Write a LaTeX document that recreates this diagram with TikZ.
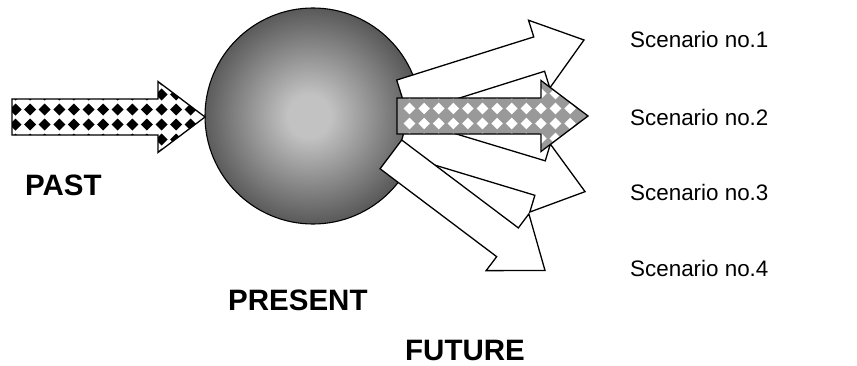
\documentclass[tikz,border=0pt]{standalone}
\usepackage{fontspec}
\setmainfont{Liberation Sans}

\definecolor{ballin}{gray}{0.76}
\definecolor{ballout}{gray}{0.35}
\definecolor{tilegray}{gray}{0.6}
\pgfdeclareradialshading{ballshade}{\pgfpoint{-1bp}{0bp}}{%
  color(0bp)=(ballin); color(5bp)=(ballin); color(25bp)=(ballout); color(50bp)=(ballout)}

% block arrow of length #1, tail centre at the origin, pointing along +x
\newcommand\arrowoutline[1]{(0,-18) -- ({#1-47},-18) -- ({#1-47},-35.5) -- (#1,0)
  -- ({#1-47},35.5) -- ({#1-47},18) -- (0,18) -- cycle}

\begin{document}
\begin{tikzpicture}[x=1pt,y=1pt,
  outline/.style={draw=black, line width=1.3pt, line join=miter},
  pics/plainarrow/.style={code={
    \fill[white] \arrowoutline{#1};
    \path[outline] \arrowoutline{#1};
  }},
  % #1 length, #2 ground colour, #3 diamond colour, #4 offset of the first diamond column,
  % #5 half diagonal of a diamond
  pics/tiledarrow/.style n args={5}{code={
    \fill[#2] \arrowoutline{#1};
    \begin{scope}
      \clip \arrowoutline{#1};
      \foreach \i in {0,...,13} \foreach \j in {-3,...,2}
        \fill[#3] ({#4+14.6*\i-#5},{7.5+15*\j}) -- ++(#5,#5) -- ++(#5,-#5) -- ++(-#5,-#5) -- cycle;
    \end{scope}
    \path[outline] \arrowoutline{#1};
  }},
  scen/.style={font=\fontsize{22.4}{27}\selectfont, inner sep=0pt, anchor=base west},
  era/.style={font=\fontsize{29.5}{35}\bfseries\selectfont, inner sep=0pt, anchor=base west}]

\useasboundingbox (0,0) rectangle (857,365);
\fill[white] (0,0) rectangle (857,365);

% the present
\node[circle, draw=black, line width=1.1pt, minimum size=216pt, inner sep=0pt,
      shade, shading=ballshade] (ball) at (313,249) {};

% the past, coming in
\pic (past) at (12,248) {tiledarrow={193}{white}{black}{3.5}{6.0}};

% possible futures, going out
\pic[rotate=17.46] (f1) at (402.1,267.8) {plainarrow=190.7};
\pic[rotate=-16.8] (f3) at (402.7,228.4) {plainarrow=190.5};
\pic[rotate=-37] (f4) at (390.9,210.6) {plainarrow=193};
\pic (f2) at (397,249) {tiledarrow={191}{tilegray}{white}{12.5}{5.8}};

% labels
\node[scen] (s1) at (630,317) {Scenario no.1};
\node[scen] (s2) at (630,240) {Scenario no.2};
\node[scen] (s3) at (630,165) {Scenario no.3};
\node[scen] (s4) at (630,89) {Scenario no.4};

\node[era] (lpast) at (25,169.5) {PAST};
\node[era] (lpresent) at (228,54.5) {PRESENT};
\node[era] (lfuture) at (405,4.5) {FUTURE};
\end{tikzpicture}
\end{document}
